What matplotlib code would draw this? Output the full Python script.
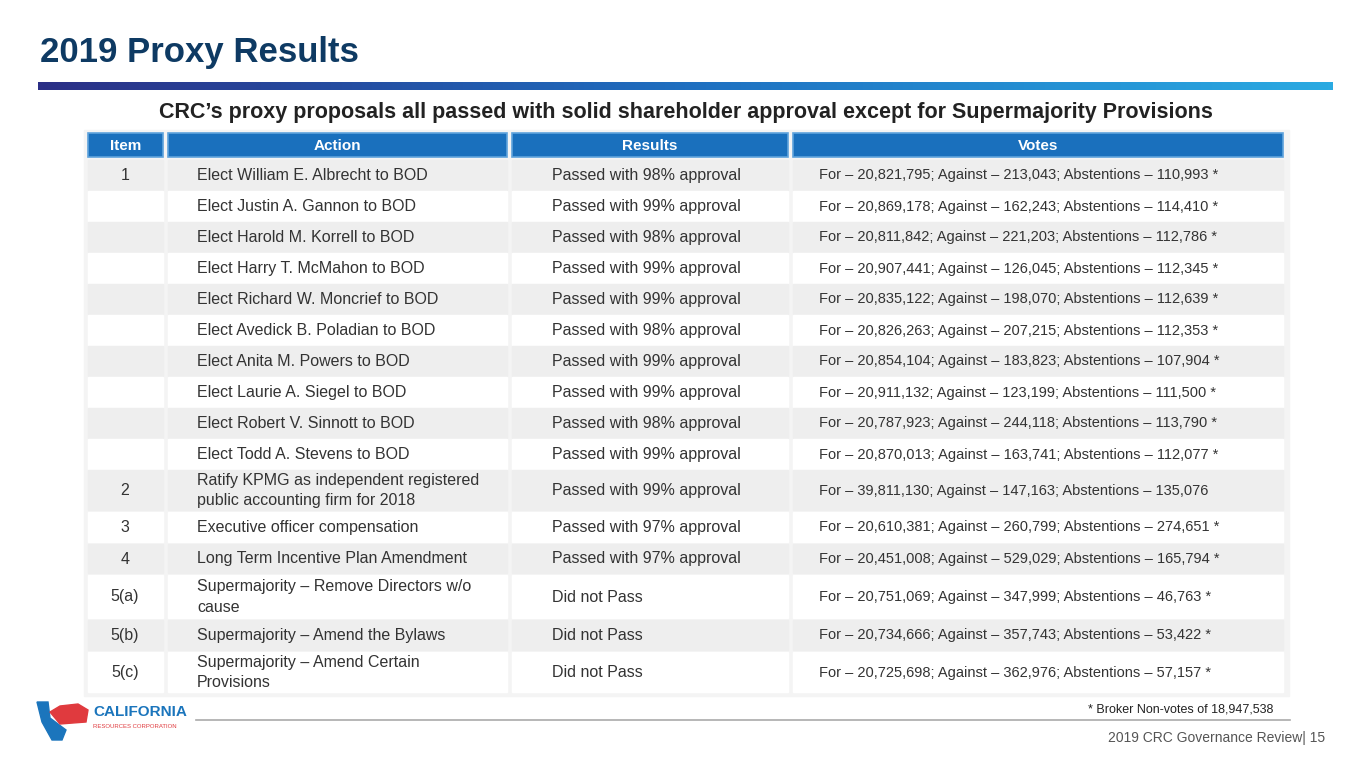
import numpy as np
import matplotlib.pyplot as plt
from matplotlib.patches import Rectangle, Polygon
from matplotlib.colors import LinearSegmentedColormap

plt.rcParams['font.family'] = ['Liberation Sans', 'DejaVu Sans']

headers = ['Item', 'Action', 'Results', 'Votes']
items = ['1', '', '', '', '', '', '', '', '', '', '2', '3', '4', '5(a)', '5(b)', '5(c)']
actions = ['Elect William E. Albrecht to BOD', 'Elect Justin A. Gannon to BOD',
           'Elect Harold M. Korrell to BOD', 'Elect Harry T. McMahon to BOD',
           'Elect Richard W. Moncrief to BOD', 'Elect Avedick B. Poladian to BOD',
           'Elect Anita M. Powers to BOD', 'Elect Laurie A. Siegel to BOD',
           'Elect Robert V. Sinnott to BOD', 'Elect Todd A. Stevens to BOD',
           'Ratify KPMG as independent registered\npublic accounting firm for 2018',
           'Executive officer compensation', 'Long Term Incentive Plan Amendment',
           'Supermajority \u2013 Remove Directors w/o\ncause', 'Supermajority \u2013 Amend the Bylaws',
           'Supermajority \u2013 Amend Certain\nProvisions']
results = ['Passed with 98% approval', 'Passed with 99% approval', 'Passed with 98% approval',
           'Passed with 99% approval', 'Passed with 99% approval', 'Passed with 98% approval',
           'Passed with 99% approval', 'Passed with 99% approval', 'Passed with 98% approval',
           'Passed with 99% approval', 'Passed with 99% approval', 'Passed with 97% approval',
           'Passed with 97% approval', 'Did not Pass', 'Did not Pass', 'Did not Pass']
votes_for = ['20,821,795', '20,869,178', '20,811,842', '20,907,441', '20,835,122', '20,826,263',
             '20,854,104', '20,911,132', '20,787,923', '20,870,013', '39,811,130', '20,610,381',
             '20,451,008', '20,751,069', '20,734,666', '20,725,698']
votes_against = ['213,043', '162,243', '221,203', '126,045', '198,070', '207,215', '183,823',
                 '123,199', '244,118', '163,741', '147,163', '260,799', '529,029', '347,999',
                 '357,743', '362,976']
votes_abst = ['110,993', '114,410', '112,786', '112,345', '112,639', '112,353', '107,904',
              '111,500', '113,790', '112,077', '135,076', '274,651', '165,794', '46,763',
              '53,422', '57,157']
broker_star = [True] * 10 + [False] + [True] * 5

# layout in slide pixels
row_top = [160, 191, 222, 253, 284, 315, 346, 377, 408, 439, 470, 512, 544, 575, 620, 652]
row_bot = [190, 221, 252, 283, 314, 345, 376, 407, 438, 469, 510, 542, 573, 618, 650, 692]
cols = [(88, 163), (168, 507), (512, 788), (793, 1283)]

fig = plt.figure(figsize=(13.65, 7.68), dpi=100)
ax = fig.add_axes([0, 0, 1, 1])
ax.set_xlim(0, 1365)
ax.set_ylim(768, 0)
ax.axis('off')

ax.text(40, 62, '2019 Proxy Results', fontsize=25, fontweight='bold', color='#0e3a63',
        va='baseline')
grad = np.linspace(0, 1, 256).reshape(1, -1)
cm = LinearSegmentedColormap.from_list('g', ['#2b2f86', '#1f6fc0', '#2aaae2'])
ax.imshow(grad, cmap=cm, extent=(38, 1333, 90, 82), aspect='auto')
ax.text(686, 118, "CRC\u2019s proxy proposals all passed with solid shareholder approval except for Supermajority Provisions",
        fontsize=15.5, fontweight='bold', color='#222222', ha='center', va='baseline')

ax.add_patch(Rectangle((84, 130), 1205, 566, color='#f4f4f4', zorder=0))
for (x0, x1), h in zip(cols, headers):
    ax.add_patch(Rectangle((x0, 133), x1 - x0, 24, facecolor='#1a70bd', edgecolor='#5fa3dc', lw=1.2))
    ax.text((x0 + x1) / 2, 150, h, color='white', fontsize=11, fontweight='bold', ha='center',
            va='baseline')

for i in range(len(actions)):
    t, b = row_top[i], row_bot[i]
    fc = '#eeeeee' if i % 2 == 0 else '#ffffff'
    for x0, x1 in cols:
        ax.add_patch(Rectangle((x0, t), x1 - x0, b - t, color=fc, zorder=1))
    yb = (t + b) / 2 + 5
    kw = dict(fontsize=11.5, va='baseline', color='#333333', zorder=2)
    ax.text(125, yb, items[i], ha='center', **kw)
    if '\n' in actions[i]:
        l1, l2 = actions[i].split('\n')
        ax.text(197, yb - 10, l1, **kw)
        ax.text(197, yb + 10, l2, **kw)
    else:
        ax.text(197, yb, actions[i], **kw)
    ax.text(552, yb, results[i], **kw)
    v = 'For \u2013 %s; Against \u2013 %s; Abstentions \u2013 %s' % (votes_for[i], votes_against[i], votes_abst[i])
    if broker_star[i]:
        v += ' *'
    ax.text(819, yb - 0.5, v, fontsize=10.5, va='baseline', color='#333333', zorder=2)

# logo
ax.add_patch(Polygon([(37, 702), (48, 702), (50, 718), (66, 730), (62, 740), (52, 740), (42, 722)],
                     color='#1b75bc'))
ax.add_patch(Polygon([(50, 712), (60, 706), (78, 704), (88, 710), (86, 722), (60, 724)], color='#e03a3e'))
ax.text(93, 712, 'CALIFORNIA', fontsize=11, fontweight='bold', color='#1b75bc', va='center')
ax.text(93, 726, 'RESOURCES CORPORATION', fontsize=4.3, color='#e03a3e', va='center')
ax.plot([196, 1290], [720, 720], color='#aaaaaa', lw=1.2)
ax.text(1273, 709, '* Broker Non-votes of 18,947,538', fontsize=9, ha='right', va='center',
        color='#222222')
ax.text(1325, 738, '2019 CRC Governance Review| 15', fontsize=10, ha='right', va='center',
        color='#555555')

fig.savefig('out.png', dpi=100)
